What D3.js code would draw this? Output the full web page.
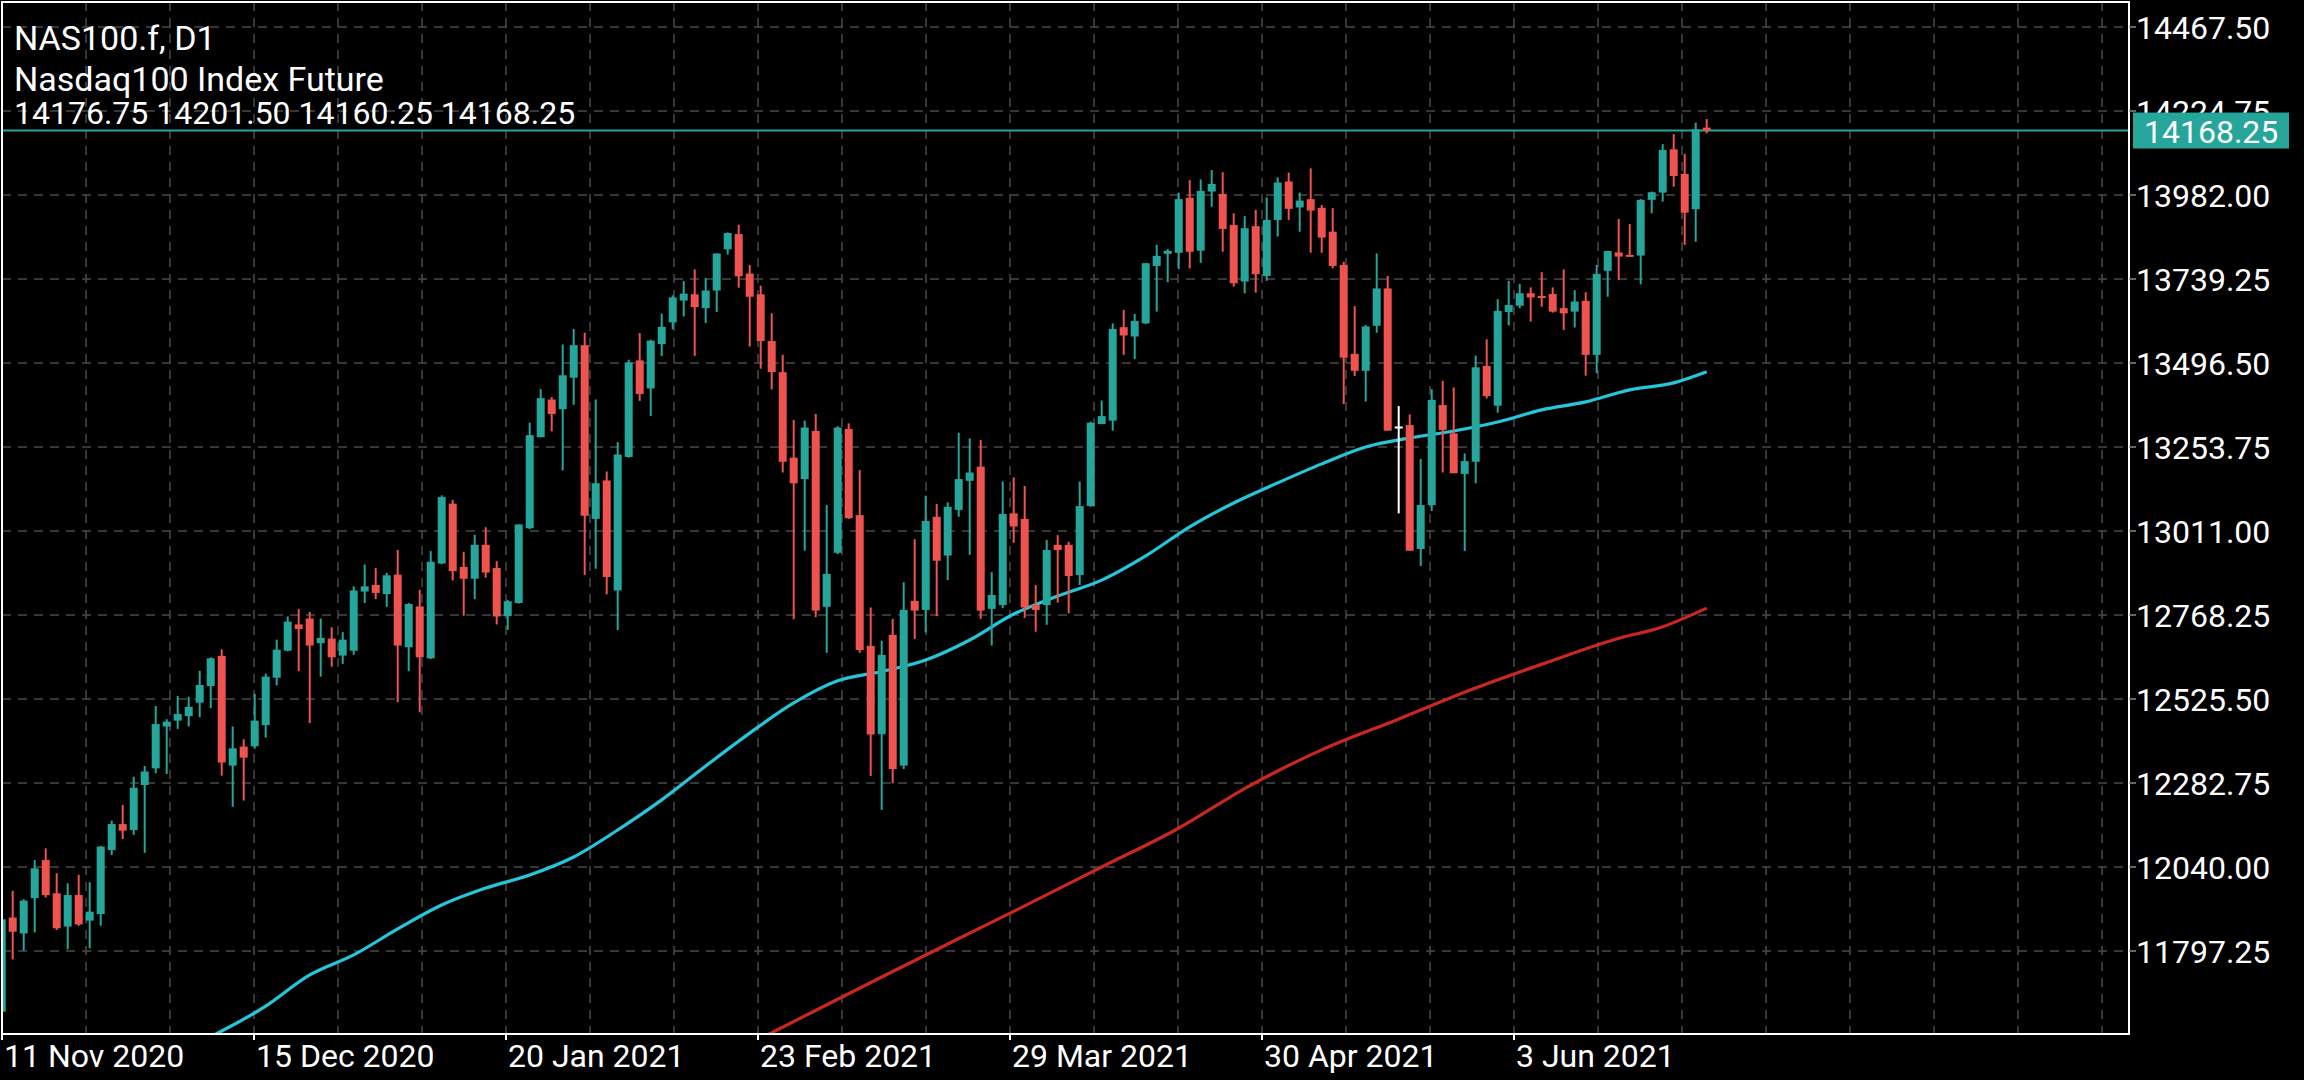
<!DOCTYPE html>
<html><head><meta charset="utf-8">
<script src="https://cdn.jsdelivr.net/npm/d3@7"></script>
<style>html,body{margin:0;padding:0;background:#000;overflow:hidden}</style>
</head><body>
<svg id="c" width="2304" height="1080"></svg>
<script>
// ---------------- DATA ----------------
const symbolTitle = "NAS100.f, D1";
const symbolDesc = "Nasdaq100 Index Future";
const lastOHLC = ["14176.75", "14201.50", "14160.25", "14168.25"];
const lastPrice = 14168.25;

const opens = [11622,11894,11848,11950,12060,11964,11868,11959,11885,11904,
12089,12164,12147,12277,12325,12446,12463,12476,12515,12563,
12650,12333,12388,12389,12450,12587,12665,12741,12758,12687,
12700,12651,12665,12836,12855,12829,12885,12675,12793,12643,
12917,13090,12907,12873,12971,12904,12765,12803,13019,13282,
13391,13363,13454,13548,13046,13157,12839,13225,13504,13423,
13551,13614,13677,13695,13655,13706,13825,13869,13755,13695,
13560,13470,13223,13161,13300,12792,12948,13306,13057,12679,
12424,12711,12333,12809,12783,13052,12940,13072,13156,13197,
12786,12797,13062,13046,12797,12797,12971,12971,12884,13083,
13320,13330,13600,13573,13611,13777,13812,13815,13974,13821,
13992,13985,13895,13732,13892,13748,13910,14021,13946,13970,
13945,13876,13780,13523,13474,13604,13712,13313,13317,12959,
13086,13375,13293,13176,13211,13488,13373,13644,13662,13698,
13690,13696,13655,13645,13676,13520,13763,13816,13809,13807,
13968,13989,14114,14043,13941,14176.75];
const highs = [11895,11971,11947,12060,12094,12022,11993,12017,11996,12101,
12174,12219,12301,12332,12505,12467,12534,12532,12607,12646,
12669,12446,12409,12540,12599,12697,12764,12785,12777,12758,
12733,12719,12851,12914,12904,12890,12956,12803,12841,12953,
13114,13101,12951,13000,13022,12924,12812,13030,13324,13421,
13398,13550,13595,13584,13391,13183,13268,13506,13583,13564,
13639,13692,13733,13767,13742,13813,13874,13896,13780,13720,
13640,13520,13332,13330,13349,13086,13314,13322,13187,12790,
12694,12757,12863,12987,13113,13089,13094,13295,13279,13274,
12892,13154,13166,13141,12855,12985,12999,12980,13154,13327,
13388,13611,13650,13638,13785,13838,13826,13989,14025,14027,
14054,14048,13929,13921,13939,13975,14033,14047,13989,14059,
13953,13944,13789,13661,13606,13813,13748,13372,13348,13219,
13421,13445,13426,13235,13518,13565,13681,13734,13725,13715,
13759,13715,13767,13707,13701,13780,13820,13913,13898,13970,
13992,14129,14158,14101,14191,14201.5];
const lows = [11600,11773,11798,11851,11952,11858,11802,11870,11805,11870,
12075,12121,12133,12081,12311,12309,12439,12446,12473,12499,
12304,12214,12232,12382,12414,12565,12663,12606,12456,12590,
12619,12627,12653,12803,12814,12792,12516,12606,12487,12641,
12915,12868,12766,12814,12876,12741,12725,12801,13016,13282,
13299,13186,13376,12884,12902,12828,12725,13223,13387,13343,
13517,13594,13631,13517,13612,13644,13810,13714,13544,13480,
13420,13180,12756,12954,12762,12659,12944,13046,12659,12303,
12205,12282,12323,12699,12718,12765,12869,13052,12942,12757,
12680,12788,12977,12760,12720,12740,12804,12773,12855,13081,
13320,13301,13520,13508,13609,13645,13730,13768,13770,13786,
13948,13818,13717,13698,13700,13734,13862,13910,13876,13815,
13815,13770,13378,13459,13385,13584,13301,13062,12954,12910,
13069,13180,13178,12953,13149,13394,13353,13605,13655,13616,
13659,13642,13592,13599,13460,13467,13688,13736,13804,13724,
13929,13963,14006,13838,13847,14160.25];
const closes = [11889,11853,11943,12036,11959,11863,11959,11874,11911,12099,
12164,12145,12269,12316,12453,12460,12482,12503,12566,12643,
12342,12383,12356,12463,12590,12668,12749,12728,12680,12702,
12646,12697,12839,12851,12832,12883,12680,12800,12646,12922,
13109,12895,12873,12971,12891,12764,12808,13030,13288,13395,
13349,13461,13548,13055,13149,12878,13232,13498,13407,13561,
13601,13686,13697,13658,13706,13813,13872,13747,13688,13560,
13470,13211,13149,13310,12781,12887,13310,13048,12667,12423,
12653,12323,12783,12781,13040,12925,13081,13161,13180,12781,
12826,13060,13024,12790,12783,12956,12956,12881,13083,13324,
13343,13595,13576,13618,13785,13806,13821,13970,13818,13994,
14014,13884,13727,13886,13753,13910,14018,13942,13966,13937,
13859,13777,13512,13474,13602,13712,13301,13313,12954,13086,
13390,13303,13178,13213,13484,13401,13647,13664,13698,13686,
13686,13645,13640,13674,13520,13754,13820,13804,13804,13968,
13990,14112,14037,13931,14172,14168.25];

// moving averages: [bar index, value]
const maFast = [[19,11550],[20,11566],[24,11638],[28,11728],[32,11786],[36,11861],[40,11930],
[44,11979],[48,12017],[52,12069],[56,12147],[60,12234],[64,12332],[68,12427],[72,12514],
[76,12578],[80,12605],[84,12638],[88,12696],[92,12771],[96,12823],[100,12869],[104,12939],
[108,13023],[112,13092],[116,13150],[120,13205],[124,13254],[128,13280],[132,13300],
[136,13326],[140,13361],[144,13384],[148,13419],[152,13439],[155,13471]];
const maSlow = [[69,11545],[74.7,11637],[80,11722],[86.6,11827],[93.4,11934],[100,12040],
[106.7,12147],[113.4,12274],[120.1,12380],[126.8,12465],[133.4,12550],[140.1,12627],
[146.8,12699],[150.8,12732],[155,12788]];

const yTickValues = [14467.50,14224.75,13982.00,13739.25,13496.50,13253.75,13011.00,
12768.25,12525.50,12282.75,12040.00,11797.25];
const xTickLabels = ["11 Nov 2020","15 Dec 2020","20 Jan 2021","23 Feb 2021","29 Mar 2021","30 Apr 2021","3 Jun 2021"];

// ---------------- LAYOUT ----------------
const W = 2304, H = 1080;
const L = 2, R = 2129, T = 2, B = 1034;
const UP = "#26a69a", DOWN = "#ef5350", DOJI = "#ffffff";
const FONT = "Roboto, 'Noto Sans', sans-serif";
const gridBars = 84 / 11;   // grid spacing in bars
const gridCount = 25;

const svg = d3.select("#c");
svg.append("rect").attr("width", W).attr("height", H).attr("fill", "#000");

const x = d3.scaleLinear().domain([0, opens.length - 1]).range([1.7, 1706.7]);
const y = d3.scaleLinear().domain([11557.4, 14539.75]).range([B, T]);

svg.append("clipPath").attr("id", "plot").append("rect")
  .attr("x", L).attr("y", T).attr("width", R - L).attr("height", B - T);

// grid
const grid = svg.append("g").attr("stroke", "#4a4a4a").attr("stroke-width", 1.5)
  .attr("stroke-dasharray", "9,7");
grid.selectAll("line.h").data(yTickValues).join("line")
  .attr("x1", L).attr("x2", R).attr("y1", d => y(d)).attr("y2", d => y(d));
grid.selectAll("line.v").data(d3.range(1, gridCount + 1)).join("line")
  .attr("y1", T).attr("y2", B)
  .attr("x1", k => x(k * gridBars) + 0.3).attr("x2", k => x(k * gridBars) + 0.3);

const plot = svg.append("g").attr("clip-path", "url(#plot)");

// moving averages
const line = d3.line().x(d => x(d[0])).y(d => y(d[1])).curve(d3.curveMonotoneX);
plot.append("path").attr("d", line(maFast)).attr("fill", "none")
  .attr("stroke", "#26c6da").attr("stroke-width", 3.2);
plot.append("path").attr("d", line(maSlow)).attr("fill", "none")
  .attr("stroke", "#c8281e").attr("stroke-width", 3.2);

// price line
plot.append("line").attr("x1", L).attr("x2", R)
  .attr("y1", y(lastPrice)).attr("y2", y(lastPrice))
  .attr("stroke", UP).attr("stroke-width", 2);

// candles
const bars = opens.map((o, i) => ({ i, o, h: highs[i], l: lows[i], c: closes[i] }));
const col = d => d.c > d.o ? UP : (d.c < d.o ? DOWN : DOJI);
plot.selectAll("line.wick").data(bars).join("line")
  .attr("x1", d => x(d.i)).attr("x2", d => x(d.i))
  .attr("y1", d => y(d.h)).attr("y2", d => y(d.l))
  .attr("stroke", col).attr("stroke-width", 2);
plot.selectAll("rect.body").data(bars).join("rect")
  .attr("x", d => x(d.i) - 4).attr("width", 8)
  .attr("y", d => y(Math.max(d.o, d.c)))
  .attr("height", d => Math.max(2, Math.abs(y(d.o) - y(d.c))))
  .attr("fill", col);

// frame
svg.append("rect").attr("x", L).attr("y", T).attr("width", R - L).attr("height", B - T)
  .attr("fill", "none").attr("stroke", "#fff").attr("stroke-width", 2);

// y axis
const ya = svg.append("g");
ya.selectAll("line").data(yTickValues).join("line")
  .attr("x1", R).attr("x2", R + 7).attr("y1", d => y(d)).attr("y2", d => y(d))
  .attr("stroke", "#888").attr("stroke-width", 1.5);
ya.selectAll("text").data(yTickValues).join("text")
  .attr("x", 2136).attr("y", d => y(d) + 12)
  .attr("fill", "#fff").attr("font-family", FONT).attr("font-size", 32)
  .text(d => d.toFixed(2));

// price label
const py = y(lastPrice);
svg.append("rect").attr("x", 2133).attr("y", py - 18).attr("width", 156).attr("height", 36)
  .attr("fill", UP);
svg.append("text").attr("x", 2144).attr("y", py + 12).attr("fill", "#fff")
  .attr("font-family", FONT).attr("font-size", 32).text(lastPrice.toFixed(2));

// x axis
const xa = svg.append("g");
xTickLabels.forEach((t, j) => {
  const xx = x(j * 3 * gridBars) + 0.3;
  xa.append("line").attr("x1", xx).attr("x2", xx).attr("y1", B).attr("y2", B + 6)
    .attr("stroke", "#fff").attr("stroke-width", 2);
  xa.append("text").attr("x", xx + 2).attr("y", 1067).attr("fill", "#fff")
    .attr("font-family", FONT).attr("font-size", 32).text(t);
});

// titles
const tt = svg.append("g").attr("fill", "#fff").attr("font-family", FONT);
tt.append("text").attr("x", 14).attr("y", 50).attr("font-size", 34).text(symbolTitle);
tt.append("text").attr("x", 14).attr("y", 91).attr("font-size", 34).text(symbolDesc);
tt.append("text").attr("x", 14).attr("y", 124).attr("font-size", 32).text(lastOHLC.join(" "));
</script>
</body></html>
